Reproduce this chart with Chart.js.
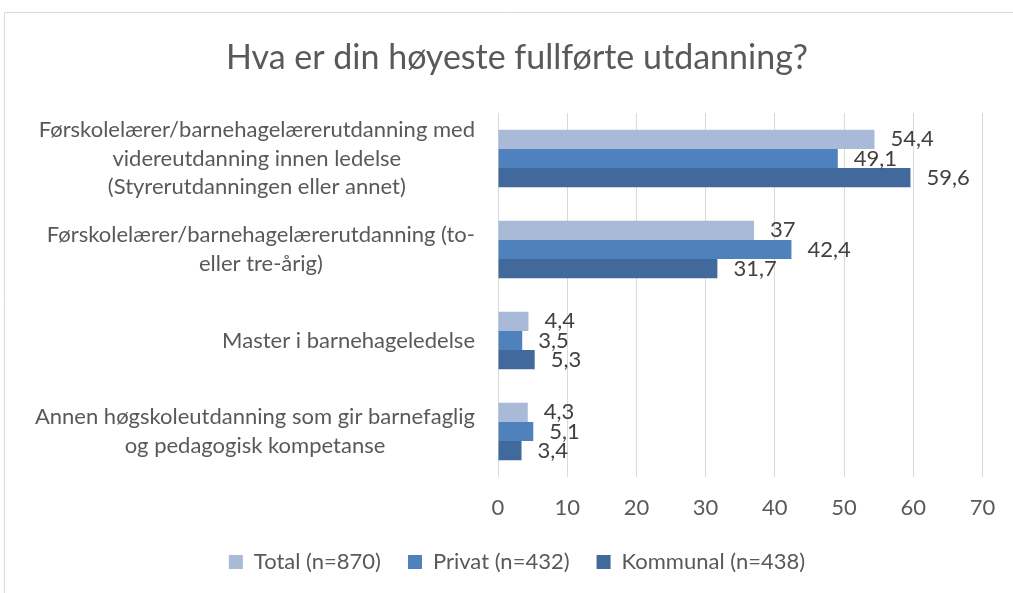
<!DOCTYPE html>
<html>
<head>
<meta charset="utf-8">
<script src="https://cdn.jsdelivr.net/npm/chart.js@4"></script>
<style>
  html, body { margin: 0; padding: 0; background: #ffffff; }
  #wrap { position: relative; width: 1013px; height: 593px; }
</style>
</head>
<body>
<div id="wrap"><canvas id="c"></canvas></div>
<script>
const categories = [
  ["Førskolelærer/barnehagelærerutdanning med", "videreutdanning innen ledelse", "(Styrerutdanningen eller annet)"],
  ["Førskolelærer/barnehagelærerutdanning (to-", "eller tre-årig)"],
  ["Master i barnehageledelse"],
  ["Annen høgskoleutdanning som gir barnefaglig", "og pedagogisk kompetanse"]
];
const seriesNames = ["Total (n=870)", "Privat (n=432)", "Kommunal (n=438)"];
const totalValues = [54.4, 37, 4.4, 4.3];
const privatValues = [49.1, 42.4, 3.5, 5.1];
const kommunalValues = [59.6, 31.7, 5.3, 3.4];
const xTicks = [0, 10, 20, 30, 40, 50, 60, 70];
const chartTitle = "Hva er din høyeste fullførte utdanning?";

const FONT = "Lato, 'Open Sans', sans-serif";
const fmt = v => String(v).replace('.', ',');

const PAD_L = 50;

const frame = {
  id: 'frame',
  beforeDraw(chart) {
    const ctx = chart.ctx;
    ctx.save();
    ctx.fillStyle = '#ffffff';
    ctx.fillRect(0, 0, chart.width, chart.height);
    ctx.strokeStyle = '#D9D9D9';
    ctx.lineWidth = 1;
    ctx.beginPath();
    ctx.moveTo(4.5, chart.height);
    ctx.lineTo(4.5, 12.5);
    ctx.lineTo(chart.width, 12.5);
    ctx.stroke();
    ctx.restore();
  }
};

const catLabels = {
  id: 'catLabels',
  afterDraw(chart) {
    const ctx = chart.ctx;
    const ys = chart.scales.y;
    const right = chart.chartArea.left - 23;
    const lh = 28.5;
    ctx.save();
    ctx.font = "22px " + FONT;
    ctx.fillStyle = '#595959';
    ctx.textAlign = 'center';
    ctx.textBaseline = 'middle';
    categories.forEach((lines, i) => {
      const cy = ys.getPixelForValue(i);
      const w = Math.max(...lines.map(l => ctx.measureText(l).width));
      const cx = right - w / 2;
      const y0 = cy - (lines.length - 1) * lh / 2;
      lines.forEach((l, j) => ctx.fillText(l, cx, y0 + j * lh));
    });
    ctx.restore();
  }
};

const valueLabels = {
  id: 'valueLabels',
  afterDatasetsDraw(chart) {
    const ctx = chart.ctx;
    ctx.save();
    ctx.font = "22px " + FONT;
    ctx.fillStyle = '#404040';
    ctx.textAlign = 'left';
    ctx.textBaseline = 'middle';
    chart.data.datasets.forEach((ds, di) => {
      const meta = chart.getDatasetMeta(di);
      meta.data.forEach((el, i) => {
        ctx.fillText(fmt(ds.data[i]), el.x + 16, el.y);
      });
    });
    ctx.restore();
  }
};

new Chart(document.getElementById('c'), {
  type: 'bar',
  data: {
    labels: categories,
    datasets: [
      { label: seriesNames[0], data: totalValues, backgroundColor: '#A9B9D8', borderWidth: 0 },
      { label: seriesNames[1], data: privatValues, backgroundColor: '#4F81BD', borderWidth: 0 },
      { label: seriesNames[2], data: kommunalValues, backgroundColor: '#41699B', borderWidth: 0 }
    ]
  },
  options: {
    indexAxis: 'y',
    responsive: true,
    maintainAspectRatio: false,
    animation: false,
    datasets: { bar: { categoryPercentage: 0.63, barPercentage: 1.0 } },
    layout: { padding: { top: 0, left: PAD_L, right: 29, bottom: 10 } },
    scales: {
      x: {
        min: 0, max: 70,
        afterBuildTicks(scale) { scale.ticks = xTicks.map(v => ({ value: v })); },
        grid: { color: '#D9D9D9', lineWidth: 1, drawTicks: false },
        border: { display: false },
        ticks: { color: '#595959', font: { family: FONT, size: 22 }, padding: 17.8 },
        afterFit(scale) { scale.height = 47; }
      },
      y: {
        grid: { display: false },
        border: { display: false },
        ticks: { display: false },
        afterFit(scale) { scale.width = 498 - PAD_L; }
      }
    },
    plugins: {
      title: {
        display: true,
        text: chartTitle,
        color: '#595959',
        font: { family: FONT, size: 34, weight: 'normal' },
        padding: { top: 37.6, bottom: 34.6 }
      },
      legend: {
        position: 'bottom',
        labels: {
          color: '#595959',
          font: { family: FONT, size: 22 },
          boxWidth: 14,
          boxHeight: 14,
          padding: 27
        }
      },
      tooltip: { enabled: false }
    }
  },
  plugins: [frame, catLabels, valueLabels]
});
</script>
</body>
</html>
